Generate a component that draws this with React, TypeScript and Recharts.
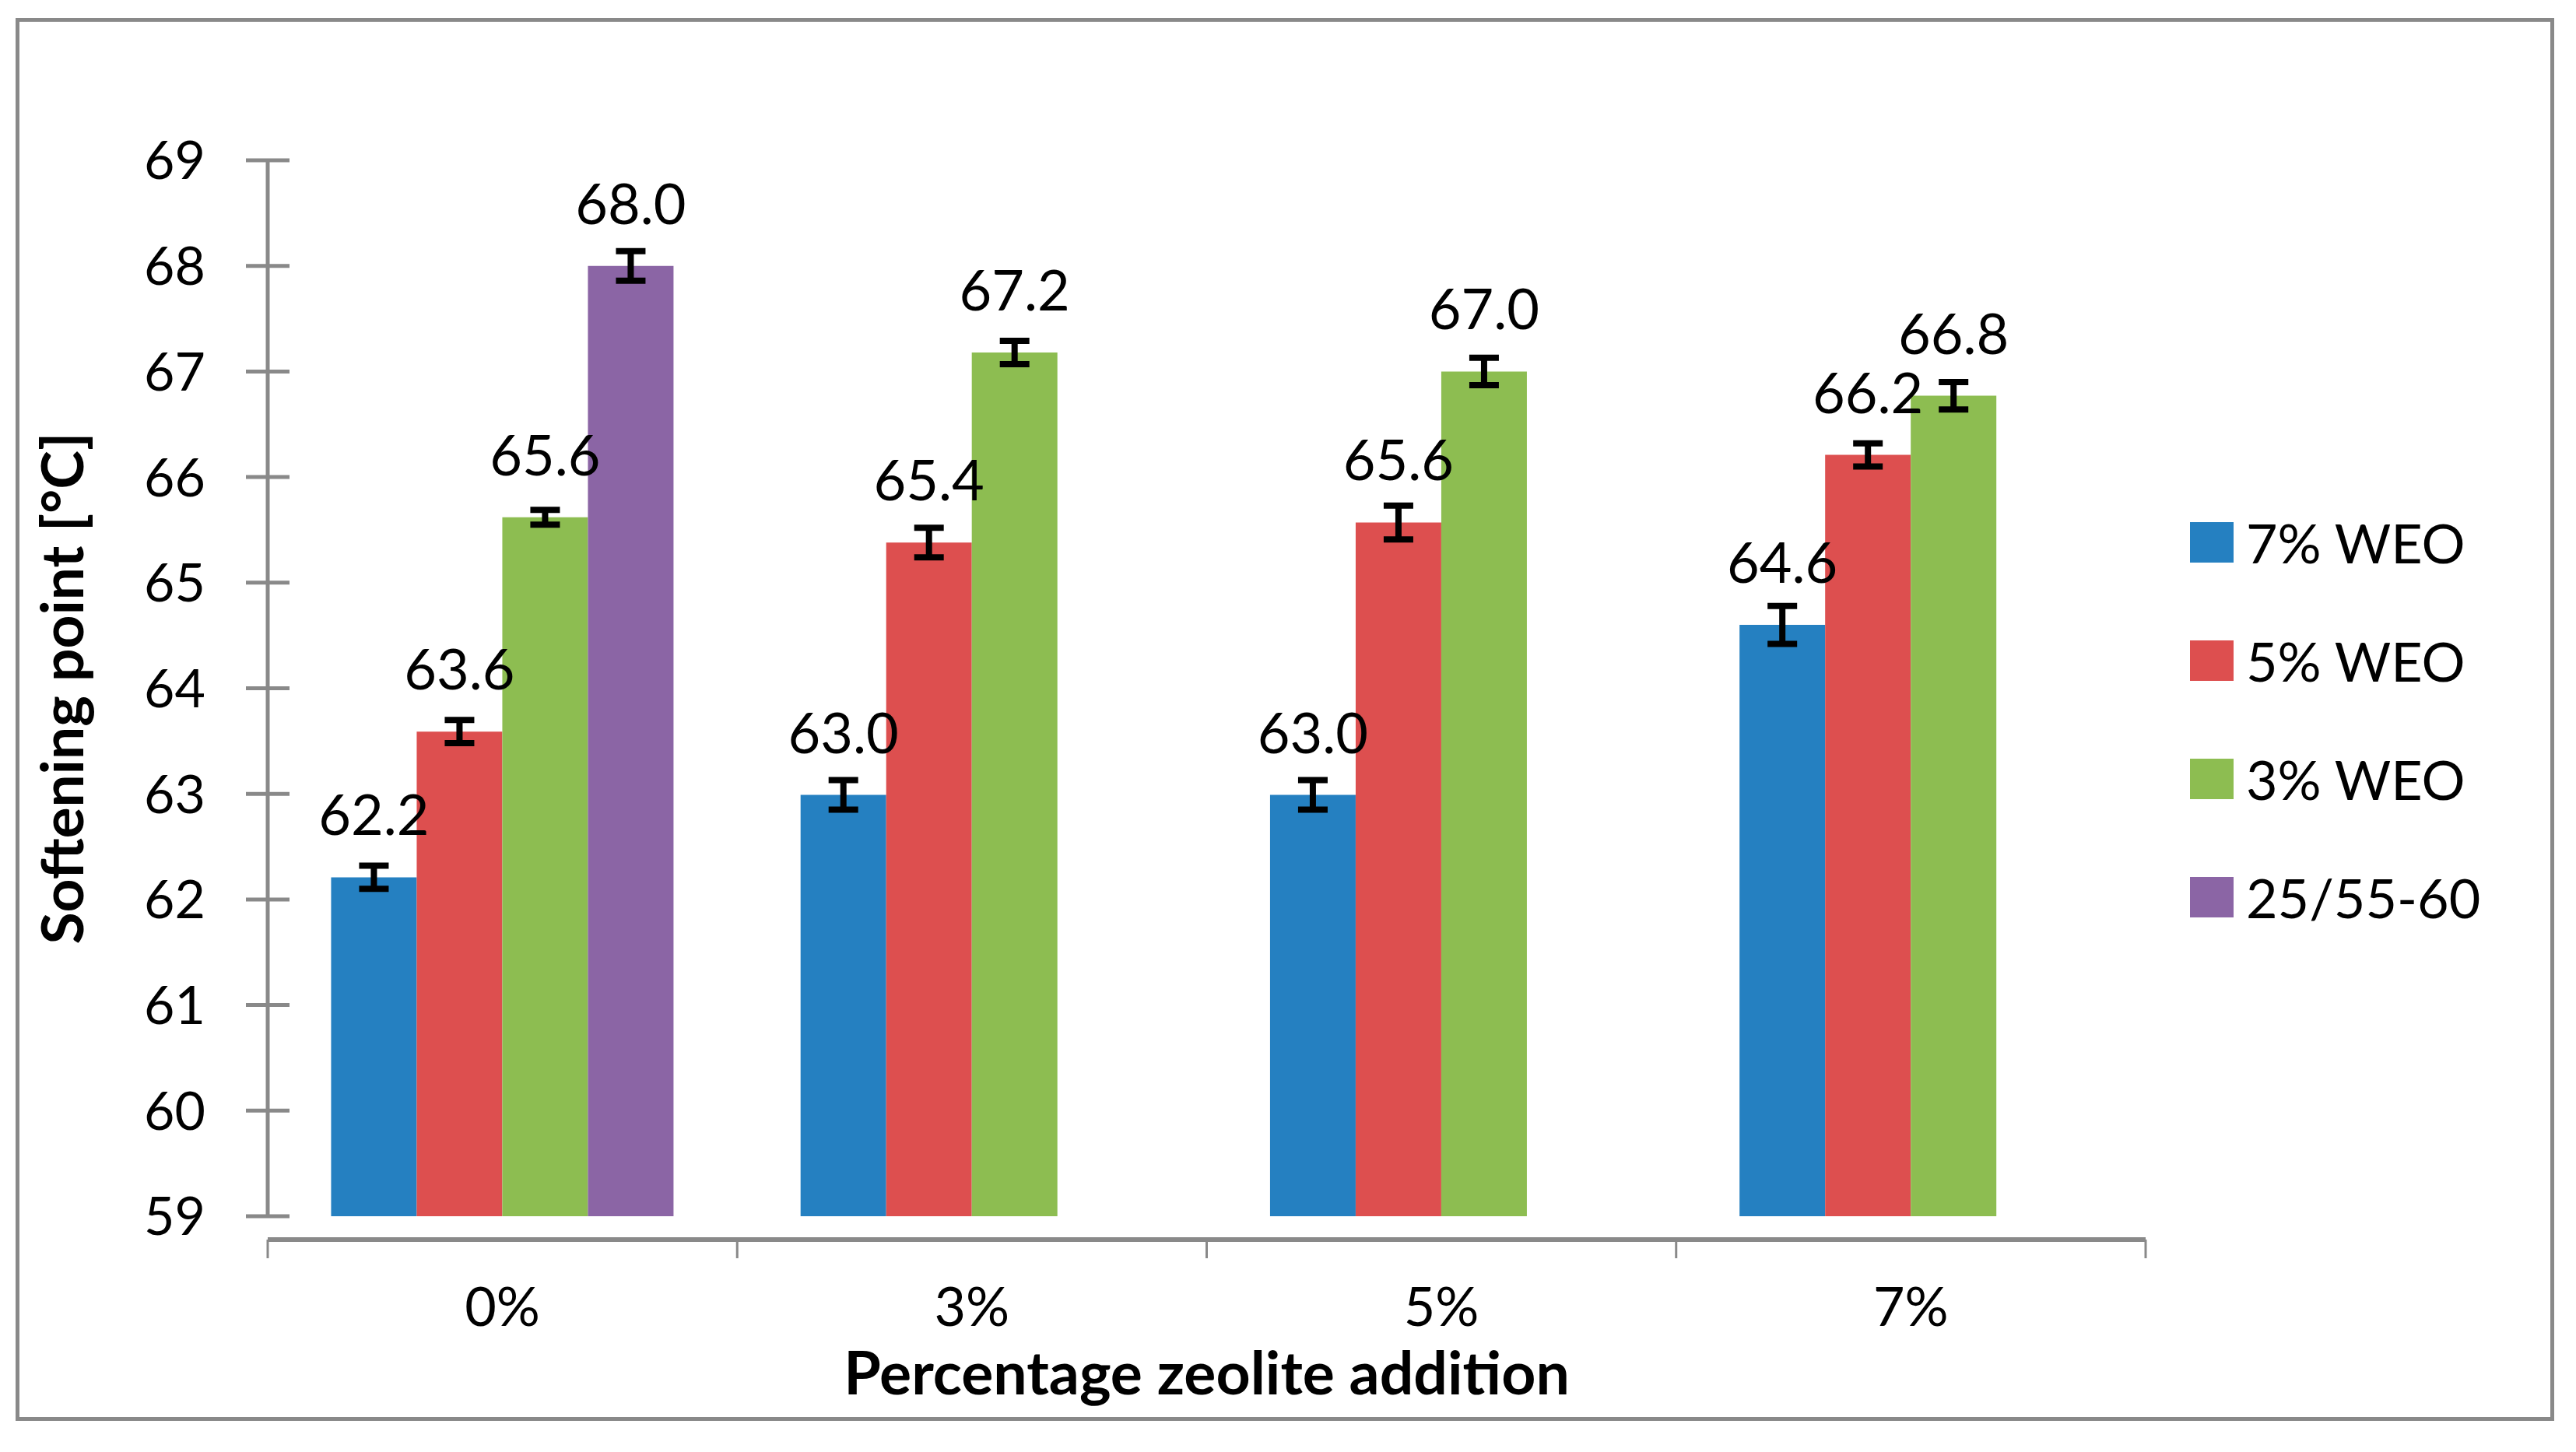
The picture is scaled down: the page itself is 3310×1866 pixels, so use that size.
import React from 'react';
import { BarChart, Bar, XAxis, YAxis, Legend, LabelList, ErrorBar, Label } from 'recharts';

// zeolite addition levels (x categories)
const categories = ['0%', '3%', '5%', '7%'];
const seriesNames = ['7% WEO', '5% WEO', '3% WEO', '25/55-60'];

// softening point per WEO level, with error bar half-heights
const weo7 = [62.21, 62.99, 62.99, 64.6];
const weo7Err = [0.11, 0.14, 0.14, 0.18];
const weo5 = [63.59, 65.38, 65.57, 66.21];
const weo5Err = [0.11, 0.14, 0.16, 0.11];
const weo3 = [65.62, 67.18, 67.0, 66.77];
const weo3Err = [0.07, 0.11, 0.13, 0.13];
const base = [68.0, null, null, null];
const baseErr = [0.14, null, null, null];

const yTicks = [59, 60, 61, 62, 63, 64, 65, 66, 67, 68, 69];
// boundaries (integers) and category centres (halves) on the helper axis
const xTicks = [0, 0.5, 1, 1.5, 2, 2.5, 3, 3.5, 4];

const data = categories.map((cat, i) => ({
  cat,
  slot: i + 0.5,
  w7: weo7[i],
  w7e: weo7Err[i],
  w5: weo5[i],
  w5e: weo5Err[i],
  w3: weo3[i],
  w3e: weo3Err[i],
  pen: base[i],
  pene: baseErr[i],
}));

const FONT = 'Lato, "Open Sans", sans-serif';
const GREY = '#898989';

const YTick = ({ x, y, payload }: any) => (
  <g>
    <line x1={x - 28} x2={x + 28} y1={y} y2={y} stroke={GREY} strokeWidth={5} />
    <text x={x - 80} y={y} dy="0.36em" textAnchor="end" fontSize={68} fill="#000" fontFamily={FONT}>
      {payload.value}
    </text>
  </g>
);

const XTick = ({ x, y, payload }: any) => {
  const v = payload.value;
  if (Number.isInteger(v)) {
    return <line x1={x} x2={x} y1={y} y2={y + 24} stroke={GREY} strokeWidth={3} />;
  }
  return (
    <text x={x} y={y + 111} textAnchor="middle" fontSize={70} fill="#000" fontFamily={FONT}>
      {categories[Math.floor(v)]}
    </text>
  );
};

const fmt = (v: any) => (v == null ? '' : Number(v).toFixed(1));

const renderLegend = (props: any) => {
  const items = [...(props.payload || [])].sort(
    (a: any, b: any) => seriesNames.indexOf(a.value) - seriesNames.indexOf(b.value)
  );
  return (
    <div>
      {items.map((e: any) => (
        <div key={e.value} style={{ display: 'flex', alignItems: 'center', height: 152 }}>
          <span style={{ display: 'inline-block', width: 56, height: 52, background: e.color, marginRight: 16 }} />
          <span style={{ fontSize: 70, fontFamily: FONT, color: '#000' }}>{e.value}</span>
        </div>
      ))}
    </div>
  );
};

const labelProps = { position: 'top' as const, offset: 54, formatter: fmt, fontSize: 72, fill: '#000', fontFamily: FONT };

const App: React.FC = () => {
  return (
    <div style={{ position: 'absolute', left: 0, top: 0, width: 3310, height: 1866, background: '#fff', fontFamily: FONT }}>
      <div
        style={{
          position: 'absolute',
          left: 20,
          top: 23,
          width: 3262,
          height: 1803,
          border: `5px solid ${GREY}`,
          boxSizing: 'border-box',
        }}
      />
      <div style={{ position: 'absolute', left: 0, top: 0 }}>
        <BarChart
          width={3310}
          height={1866}
          data={data}
          margin={{ top: 206, right: 553, left: 0, bottom: 53 }}
          barCategoryGap="13.5%"
          barGap={0}
        >
          <XAxis xAxisId="cat" dataKey="cat" hide />
          <XAxis
            xAxisId="grid"
            dataKey="slot"
            type="number"
            domain={[0, 4]}
            ticks={xTicks}
            interval={0}
            allowDataOverflow
            tickSize={0}
            tickMargin={0}
            tickLine={false}
            axisLine={{ stroke: GREY, strokeWidth: 6 }}
            tick={<XTick />}
            height={250}
          >
            <Label
              value="Percentage zeolite addition"
              position="insideBottom"
              offset={51}
              style={{ fontSize: 77, fontWeight: 700, fill: '#000', fontFamily: FONT }}
            />
          </XAxis>
          <YAxis
            domain={[59, 69]}
            ticks={yTicks}
            interval={0}
            tickSize={0}
            tickMargin={0}
            tickLine={false}
            axisLine={{ stroke: GREY, strokeWidth: 5 }}
            tick={<YTick />}
            width={344}
          >
            <Label
              value="Softening point [°C]"
              angle={-90}
              position="insideLeft"
              offset={92}
              dx={-12}
              style={{ fontSize: 75, fontWeight: 700, fill: '#000', fontFamily: FONT, textAnchor: 'middle' }}
            />
          </YAxis>
          <Legend
            content={renderLegend}
            layout="horizontal"
            align="center"
            verticalAlign="middle"
            wrapperStyle={{ position: 'absolute', left: 2814, top: 621, width: 460 }}
          />
          <Bar xAxisId="cat" dataKey="w7" name="7% WEO" fill="#2580C1" isAnimationActive={false}>
            <ErrorBar dataKey="w7e" width={19} strokeWidth={8} stroke="#000" direction="y" />
            <LabelList dataKey="w7" {...labelProps} />
          </Bar>
          <Bar xAxisId="cat" dataKey="w5" name="5% WEO" fill="#DD4F4F" isAnimationActive={false}>
            <ErrorBar dataKey="w5e" width={19} strokeWidth={8} stroke="#000" direction="y" />
            <LabelList dataKey="w5" {...labelProps} />
          </Bar>
          <Bar xAxisId="cat" dataKey="w3" name="3% WEO" fill="#8DBD51" isAnimationActive={false}>
            <ErrorBar dataKey="w3e" width={19} strokeWidth={8} stroke="#000" direction="y" />
            <LabelList dataKey="w3" {...labelProps} />
          </Bar>
          <Bar xAxisId="cat" dataKey="pen" name="25/55-60" fill="#8B65A5" isAnimationActive={false}>
            <ErrorBar dataKey="pene" width={19} strokeWidth={8} stroke="#000" direction="y" />
            <LabelList dataKey="pen" {...labelProps} />
          </Bar>
        </BarChart>
      </div>
    </div>
  );
};

export default App;
